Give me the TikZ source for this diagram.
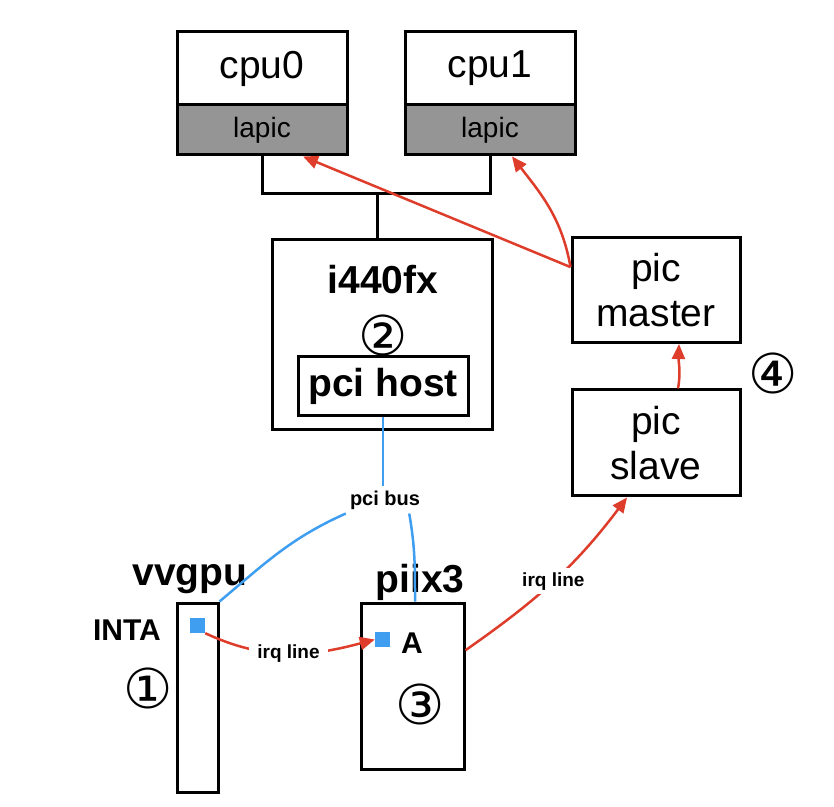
\documentclass[tikz,border=0pt]{standalone}
\usepackage{fontspec}
\setmainfont{Liberation Sans}
\newfontfamily\circfont{DejaVu Sans}
\usetikzlibrary{arrows.meta}
\definecolor{irqred}{RGB}{221,61,42}
\definecolor{busblue}{RGB}{64,158,240}
\definecolor{lapicgray}{RGB}{149,149,149}

\begin{document}
\begin{tikzpicture}[x=1pt,y=1pt]
\tikzstyle{every node}+=[inner sep=0pt]
\tikzset{
  blk/.style={draw=black, line width=3pt},
  big/.style={font=\fontsize{39}{45}\selectfont},
  bigb/.style={font=\fontsize{39}{45}\selectfont\bfseries},
  midb/.style={font=\fontsize{30}{36}\selectfont\bfseries},
  circ/.style={font=\circfont\fontsize{55}{55}\selectfont},
  lbl/.style={font=\fontsize{19}{23}\selectfont\bfseries, fill=white, inner xsep=8pt, inner ysep=4pt},
  irq/.style={draw=irqred, line width=2.5pt, -{Triangle[length=15pt,width=13pt]}},
  pci/.style={draw=busblue, line width=2.5pt},
  port/.style={fill=busblue, minimum size=15pt}
}
\useasboundingbox (0,0) rectangle (834,806);
\node [blk, big, minimum width=170, minimum height=73] (cpu0) at (262,737.5) {cpu0};
\node [blk, fill=lapicgray, minimum width=170, minimum height=50, font=\fontsize{28}{32}\selectfont] (lapic0) at (262,676) {lapic};
\node [blk, big, minimum width=170, minimum height=73] (cpu1) at (490,737.5) {cpu1};
\node [blk, fill=lapicgray, minimum width=170, minimum height=50, font=\fontsize{28}{32}\selectfont] (lapic1) at (490,676) {lapic};
\node [blk, minimum width=220, minimum height=190] (i440fx) at (382,471) {};
\node [bigb] (i440fxname) at (383,526) {i440fx};
\node [circ] (n2) at (383,471) {②};
\node [blk, bigb, minimum width=170, minimum height=59] (pcihost) at (383,420) {pci host};
\node [blk, big, align=center, minimum width=168, minimum height=105] (picmaster) at (656,516) {pic\\master};
\node [blk, big, align=center, minimum width=168, minimum height=106] (picslave) at (656,363) {pic\\slave};
\node [circ] (n4) at (773,433) {④};
\node [blk, minimum width=41, minimum height=189] (vvgpu) at (197.5,108.5) {};
\node [bigb, anchor=base] (vvgpuname) at (190,221) {vvgpu};
\node [midb] (inta) at (127,176) {INTA};
\node [circ] (n1) at (148,118) {①};
\node [port] (sq1) at (197.5,180.5) {};
\node [blk, minimum width=103, minimum height=166] (piix3) at (412.5,120) {};
\node [bigb, anchor=base] (piix3name) at (420,214) {piix3};
\node [port] (sq2) at (382.5,166.5) {};
\node [midb] (pina) at (412,163) {A};
\node [circ] (n3) at (420,102) {③};
\coordinate (bus) at (377,612);
\draw [line width=3pt] (lapic0.south) |- (bus) -| (lapic1.south);
\draw [line width=3pt] (bus) -- (bus |- i440fx.north);
\node [lbl, font=\fontsize{20}{24}\selectfont\bfseries, inner xsep=4pt] (pcibus) at (385,306) {pci bus};
\draw [pci] (pcihost.south) -- (pcihost.south |- pcibus.north);
\draw [pci] (pcibus.south west) to[out=204,in=40] (vvgpu.north east);
\draw [pci] ([xshift=-15]pcibus.south east) to[out=-80,in=90] ([xshift=2.5]piix3.north);
\draw [irq] (sq1.south east) to[out=-25,in=195] node [lbl] {irq line} (sq2.west);
\draw [irq] (piix3.34) to[out=35,in=233] node [lbl, pos=0.5] {irq line} (picslave.242);
\draw [irq] ([xshift=22]picslave.north) to[out=80,in=-92] ([xshift=23]picmaster.south);
\draw [irq] (picmaster.165) -- ([xshift=41]lapic0.south);
\draw [irq] (picmaster.165) to[out=100,in=-52] ([xshift=22]lapic1.south);
\end{tikzpicture}
\end{document}
